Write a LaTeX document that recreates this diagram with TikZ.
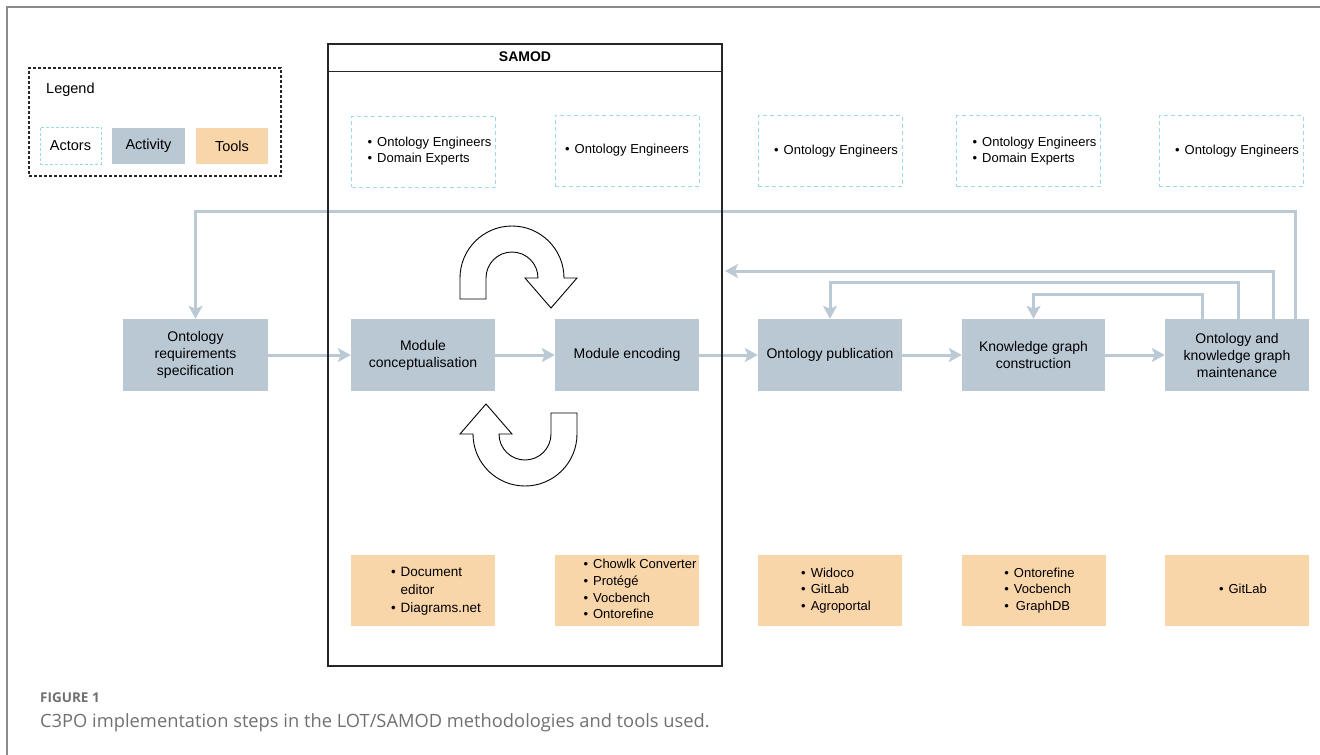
\documentclass[tikz,border=0pt]{standalone}
\usepackage{fontspec}
\setmainfont{Liberation Sans}
\newfontfamily\capfont{Open Sans}
\usetikzlibrary{arrows.meta,calc}
\definecolor{actblue}{HTML}{BAC8D4}
\definecolor{toolor}{HTML}{F9D5AA}
\definecolor{actorline}{HTML}{9ED8EE}
\definecolor{connc}{HTML}{BBC9D5}
\definecolor{framegray}{HTML}{8A8A8A}
\definecolor{capgray}{HTML}{707070}
\newcommand{\blist}[1]{\begin{tabular}{@{}l@{\hspace{5pt}}l@{}}#1\end{tabular}}
\begin{document}
\begin{tikzpicture}[x=1pt,y=-1pt,
  actbox/.style={fill=actblue, minimum width=145pt, minimum height=72pt, inner sep=0pt, align=center, font=\fontsize{14}{17}\selectfont},
  toolbox/.style={fill=toolor, minimum width=144pt, minimum height=71pt, inner sep=0pt, font=\fontsize{13}{17}\selectfont},
  actorbox/.style={draw=actorline, dash pattern=on 4pt off 3pt, line width=1pt, minimum width=144pt, minimum height=71pt, inner sep=0pt, font=\fontsize{13}{16}\selectfont},
  conn/.style={draw=connc, line width=3pt, -{Stealth[length=13pt,width=14pt,inset=3pt]}},
  uarrow/.style={draw=black, fill=white, line width=0.9pt, line join=miter},
  legtext/.style={font=\fontsize{14.5}{17}\selectfont, inner sep=0pt}
  ]
\useasboundingbox (0,0) rectangle (1320,755);

% outer frame
\draw[framegray, line width=2pt] (7,755) -- (7,7) -- (1320,7);

% legend
\node[draw=black!85, dash pattern=on 3pt off 2pt, line width=1.2pt, minimum width=252pt, minimum height=108pt, inner sep=0pt] (legend) at (155,122) {};
\node[legtext, anchor=west] (legtitle) at (46,90) {Legend};
\node[legtext, draw=actorline, dash pattern=on 3pt off 2pt, line width=1pt, minimum width=61pt, minimum height=37pt] (legact) at (70.5,145.5) {Actors};
\node[legtext, fill=actblue, minimum width=73pt, minimum height=36pt] (legactiv) at (148.5,146) {Activity};
\node[legtext, fill=toolor, minimum width=72pt, minimum height=36pt] (legtool) at (232,146) {Tools};

% actors
\node[actorbox] (a1) at (423.5,151.5) {\hspace*{12pt}\blist{\textbullet & Ontology Engineers\\ \textbullet & Domain Experts}};
\node[actorbox] (a2) at (627,150.5) {\blist{\textbullet & Ontology Engineers}};
\node[actorbox] (a3) at (830,151) {\hspace*{12pt}\blist{\textbullet & Ontology Engineers}};
\node[actorbox] (a4) at (1028.5,151) {\hspace*{12pt}\blist{\textbullet & Ontology Engineers\\ \textbullet & Domain Experts}};
\node[actorbox] (a5) at (1231,151) {\hspace*{12pt}\blist{\textbullet & Ontology Engineers}};

% activities
\node[actbox] (req) at (195.5,355) {Ontology\\requirements\\specification};
\node[actbox, minimum width=144pt] (conc) at (423,355) {Module\\conceptualisation};
\node[actbox, minimum width=144pt] (enc) at (627,355) {Module encoding};
\node[actbox, minimum width=144pt] (pub) at (830,355) {Ontology publication};
\node[actbox, minimum width=143pt] (kg) at (1033.5,355) {Knowledge graph\\construction};
\node[actbox, minimum width=144pt] (maint) at (1237,355) {Ontology and\\knowledge graph\\maintenance};

% tools
\node[toolbox, font=\fontsize{13.5}{18}\selectfont] (t1) at (423,590.5) {\hspace*{26pt}\blist{\textbullet & Document\\ & editor\\ \textbullet & Diagrams.net}};
\node[toolbox, font=\fontsize{13}{16.7}\selectfont] (t2) at (627,590.5) {\hspace*{26pt}\blist{\textbullet & Chowlk Converter\\ \textbullet & Protégé\\ \textbullet & Vocbench\\ \textbullet & Ontorefine}};
\node[toolbox, font=\fontsize{13}{16.5}\selectfont] (t3) at (830,590.5) {\hspace*{12pt}\blist{\textbullet & Widoco\\ \textbullet & GitLab\\ \textbullet & Agroportal}};
\node[toolbox, font=\fontsize{13}{16.5}\selectfont] (t4) at (1033.5,590.5) {\hspace*{12pt}\blist{\textbullet & Ontorefine\\ \textbullet & Vocbench\\ \textbullet & \hspace{2pt}GraphDB}};
\node[toolbox] (t5) at (1237,590.5) {\hspace*{12pt}\blist{\textbullet & GitLab}};

% connectors
\coordinate (samodin) at (725,271);
\draw[conn] (req) -- (conc);
\draw[conn] (conc) -- (enc);
\draw[conn] (enc) -- (pub);
\draw[conn] (pub) -- (kg);
\draw[conn] (kg) -- (maint);
\draw[conn] ([xshift=58pt]maint.north) -- ++(0,-107) -| (req.north);
\draw[conn] ([xshift=36pt]maint.north) |- (samodin);
\draw[conn] ([xshift=1pt]maint.north) -- ++(0,-36) -| (pub.north);
\draw[conn] ([xshift=-35pt]maint.north) -- ++(0,-24) -| (kg.north);

% SAMOD frame
\node[draw=black!85, line width=1.3pt, minimum width=394pt, minimum height=622pt, inner sep=0pt] (samod) at (525,355) {};
\draw[black!85, line width=1.3pt] ([yshift=-28pt]samod.north west) -- ([yshift=-28pt]samod.north east);
\node[font=\bfseries\fontsize{14}{17}\selectfont, inner sep=0pt] (samodtitle) at (525,57) {SAMOD};

% iteration U-arrows
\draw[uarrow] (460,299) -- (460,278) arc[start angle=180, end angle=0, radius=52pt]
  -- (577,278) -- (551,308) -- (525,278) -- (538,278)
  arc[start angle=0, end angle=180, radius=26pt] -- (486,299) -- cycle;
\draw[uarrow] (577,413) -- (577,434) arc[start angle=0, end angle=-180, radius=52pt]
  -- (460,434) -- (486,404) -- (512,434) -- (499,434)
  arc[start angle=180, end angle=360, radius=26pt] -- (551,413) -- cycle;

% caption
\node[anchor=base west, inner sep=0pt, font=\capfont\bfseries\fontsize{13.5}{16}\selectfont, text=capgray] (figlabel) at (40,702) {FIGURE 1};
\node[anchor=base west, inner sep=0pt, font=\capfont\fontsize{18.3}{22}\selectfont, text=capgray] (figcap) at (40,727) {C3PO implementation steps in the LOT/SAMOD methodologies and tools used.};
\end{tikzpicture}
\end{document}
